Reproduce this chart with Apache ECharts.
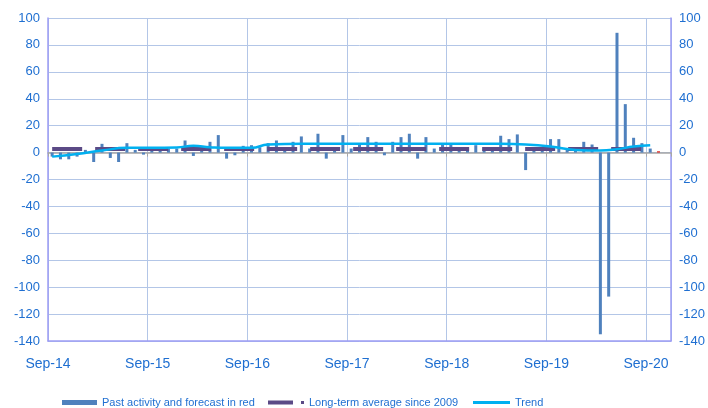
<!DOCTYPE html>
<html lang="en">
<head>
    <meta charset="UTF-8">
    <title>Activity</title>
    <style>
        html, body { margin: 0; padding: 0; background: #fff; }
        #main { width: 708px; height: 408px; }
    </style>
    <script src="https://cdn.jsdelivr.net/npm/echarts@6/dist/echarts.min.js"></script>
</head>
<body>
<div id="main"></div>
<script type="text/javascript">
    // monthly values, index 0 = Sep-14
    var tickLabels = ['Sep-14', 'Sep-15', 'Sep-16', 'Sep-17', 'Sep-18', 'Sep-19', 'Sep-20'];
    var activity = [
        -3, -5, -5, -3, 2, -7, 6.5, -4, -7, 7, 2, -1.5,
        2, 2, 3, 3, 9, -2.5, 2, 8, 13, -4.5, -2, 5,
        5.5, 4, 7, 9, 3, 8, 12, 3, 14, -4.5, 2, 13,
        3, 7, 11.5, 8, -2, 8, 11.5, 14, -4.5, 11.5, 3, 7,
        7, 4, 3.5, 5.5, 3, 3, 12.5, 10, 13.5, -13, 2, 3,
        10, 10, 2, 2, 8, 6, -135, -107, 89, 36, 11, 7,
        3
    ];
    var forecast = [1];          // months following the last past value
    var longTermAvg = 2.7;
    var trend = [
        [0, -3], [3, -1], [6, 1.5], [9, 3.5], [12, 3.5], [15, 3.8], [17, 5], [19, 4],
        [21, 3.5], [24, 3.5], [26, 6], [30, 6.5], [36, 6.5], [42, 6.5], [48, 6.5],
        [54, 6.5], [57, 6], [60, 4.5], [63, 2], [66, 1.5], [68, 2.5], [70, 4.5], [72, 5.5]
    ];

    var blueText = '#1f6fd1';
    var font = '"Liberation Sans", Arial, sans-serif';

    var barData = [];
    activity.forEach(function (v, i) { barData.push([i + 0.5, v]); });
    forecast.forEach(function (v, i) {
        barData.push({ value: [activity.length + i + 0.5, v], itemStyle: { color: '#e0302a' } });
    });
    var avgData = activity.map(function (v, i) { return [i + 0.5, longTermAvg]; });
    var trendData = trend.map(function (p) { return [p[0] + 0.5, p[1]]; });

    var legendText = { color: blueText, fontSize: 11, fontFamily: font };

    var myChart = echarts.init(document.getElementById('main'));
    var option = {
        animation: false,
        grid: { left: 48, right: 33, top: 18, bottom: 67 },
        legend: [
            { data: [{ name: 'Past activity and forecast in red', icon: 'rect' }],
              left: 57, top: 392, itemWidth: 35, itemHeight: 5, textStyle: legendText },
            { data: [{ name: 'Long-term average since 2009', icon: 'path://M0,0H25V4H0Z M33,0.5H36V3.5H33Z' }],
              left: 263, top: 392, itemWidth: 36, itemHeight: 4, textStyle: legendText },
            { data: [{ name: 'Trend', icon: 'rect' }],
              left: 468, top: 392, itemWidth: 37, itemHeight: 3, textStyle: legendText }
        ],
        xAxis: [{
            type: 'value', min: 0, max: 75, interval: 12,
            position: 'bottom',
            axisLine: { onZero: false, lineStyle: { color: '#9d9df5', width: 1.5 } },
            axisTick: { show: false },
            splitLine: { show: true, lineStyle: { color: '#b3c6e7', width: 1 } },
            axisLabel: {
                margin: 16, color: blueText, fontSize: 14, fontFamily: font,
                formatter: function (v) { return v % 12 === 0 ? tickLabels[v / 12] : ''; }
            }
        }, {
            // zero line
            type: 'value', min: 0, max: 75, interval: 12,
            position: 'top',
            axisLine: { onZero: true, lineStyle: { color: '#a6a6a6', width: 1.5 } },
            axisTick: { show: true, inside: true, length: 4, lineStyle: { color: '#a6a6a6' } },
            axisLabel: { show: false },
            splitLine: { show: false }
        }],
        yAxis: [{
            type: 'value', min: -140, max: 100, interval: 20,
            position: 'left',
            axisLine: { show: true, onZero: false, lineStyle: { color: '#9d9df5', width: 1.5 } },
            axisTick: { show: false },
            splitLine: { lineStyle: { color: '#b3c6e7', width: 1 } },
            axisLabel: { margin: 8, color: blueText, fontSize: 13, fontFamily: font }
        }, {
            type: 'value', min: -140, max: 100, interval: 20,
            position: 'right',
            axisLine: { show: true, onZero: false, lineStyle: { color: '#9d9df5', width: 1.5 } },
            axisTick: { show: false },
            splitLine: { show: false },
            axisLabel: { margin: 8, color: blueText, fontSize: 13, fontFamily: font }
        }],
        series: [{
            name: 'Past activity and forecast in red',
            type: 'bar',
            barWidth: 3,
            itemStyle: { color: '#4f81bd' },
            data: barData
        }, {
            name: 'Long-term average since 2009',
            type: 'line',
            showSymbol: false,
            itemStyle: { color: '#5b4a86' },
            lineStyle: { color: '#5b4a86', width: 4, type: [30, 13] },
            data: avgData
        }, {
            name: 'Trend',
            type: 'line',
            smooth: true,
            showSymbol: false,
            itemStyle: { color: '#00b0f0' },
            lineStyle: { color: '#00b0f0', width: 2.5 },
            data: trendData
        }]
    };
    myChart.setOption(option);
</script>
</body>
</html>
